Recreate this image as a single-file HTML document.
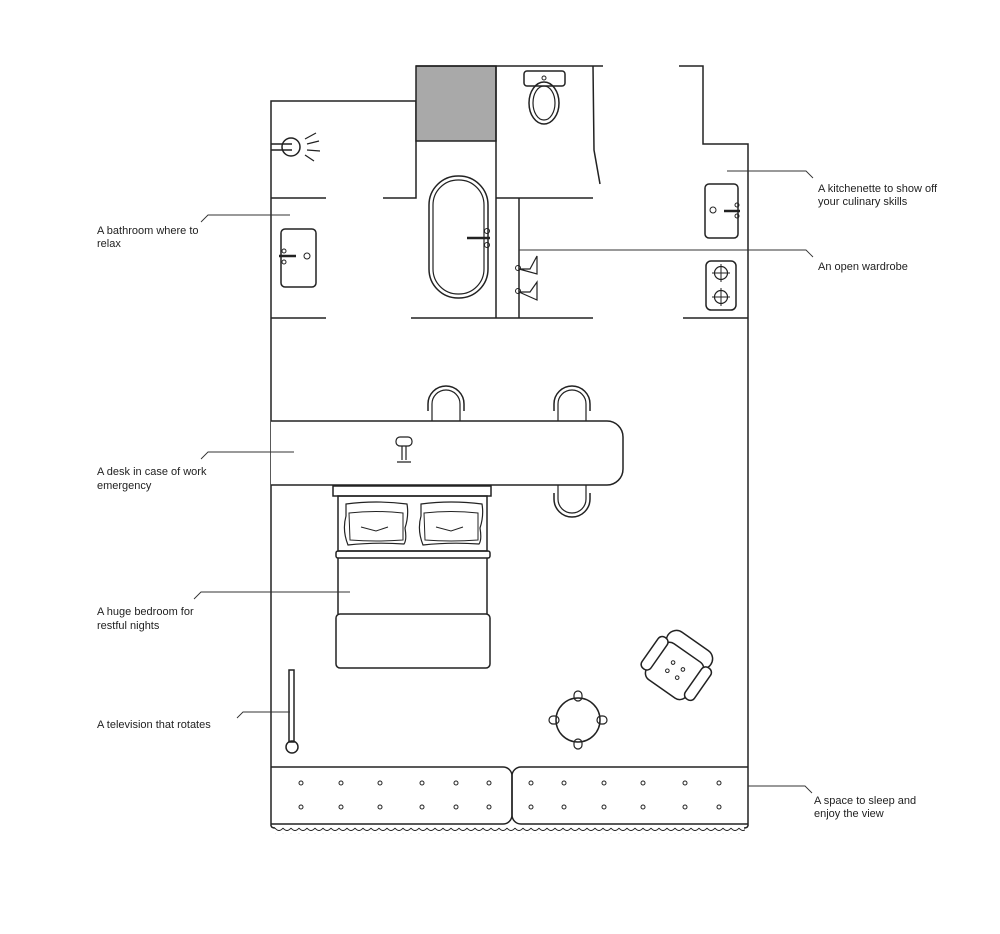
<!DOCTYPE html>
<html><head><meta charset="utf-8"><style>
body{margin:0;background:#fff;width:1000px;height:934px;overflow:hidden}
svg{display:block}
text{font-family:"Liberation Sans",sans-serif;font-size:11px;fill:#222}
</style></head><body>
<svg width="1000" height="934" viewBox="0 0 1000 934" xmlns="http://www.w3.org/2000/svg">
<defs>
<pattern id="w" x="275" y="827" width="8" height="6" patternUnits="userSpaceOnUse">
<path d="M0,1 Q4,6 8,1" fill="none" stroke="#222" stroke-width="1"/>
</pattern>
</defs>
<g fill="none" stroke="#222" stroke-width="1.5">
<path d="M271,826 V101 H416 V198 H383"/>
<path d="M271,198 H326"/>
<rect x="416" y="66" width="80" height="75" fill="#a9a9a9" stroke="#222"/>
<path d="M416,66 H603"/>
<path d="M496,66 V318"/>
<path d="M496,198 H593"/>
<path d="M593,66 L594,150 L600,184"/>
<path d="M679,66 H703 V144 H748 V826"/>
<path d="M271,318 H326 M411,318 H593 M683,318 H748"/>
<path d="M519,198 V318"/>
<path d="M519,269 L530,269 L537,256 L537,274 L519,269 M519,292 L530,292 L537,282 L537,300 L519,292" stroke-width="1.2"/>
<circle cx="518" cy="268" r="2.5" stroke-width="1"/><circle cx="518" cy="291" r="2.5" stroke-width="1"/>
<circle cx="291" cy="147" r="9"/>
<path d="M271,144 H292 M271,150 H292"/>
<path d="M305,139 L316,133 M307,144 L319,141 M307,150 L320,151 M305,155 L314,161" stroke-width="1.2"/>
<rect x="281" y="229" width="35" height="58" rx="4"/>
<path d="M279,256 H296" stroke-width="2.5"/>
<circle cx="284" cy="251" r="2" stroke-width="1"/><circle cx="284" cy="262" r="2" stroke-width="1"/>
<circle cx="307" cy="256" r="3" stroke-width="1"/>
<rect x="429" y="176" width="59" height="122" rx="29"/>
<rect x="433" y="180" width="51" height="114" rx="25" stroke-width="1.2"/>
<path d="M467,238 H490" stroke-width="2.5"/>
<circle cx="487" cy="231" r="2.5" stroke-width="1"/><circle cx="487" cy="245" r="2.5" stroke-width="1"/>
<rect x="524" y="71" width="41" height="15" rx="3"/>
<circle cx="544" cy="78" r="2" stroke-width="1"/>
<ellipse cx="544" cy="103" rx="15" ry="21"/>
<ellipse cx="544" cy="103" rx="11" ry="17" stroke-width="1.2"/>
<rect x="705" y="184" width="33" height="54" rx="4"/>
<path d="M724,211 H740" stroke-width="2.5"/>
<circle cx="737" cy="205" r="2" stroke-width="1"/><circle cx="737" cy="216" r="2" stroke-width="1"/>
<circle cx="713" cy="210" r="3" stroke-width="1"/>
<rect x="706" y="261" width="30" height="49" rx="5"/>
<circle cx="721" cy="273" r="6.5" stroke-width="1.2"/><circle cx="721" cy="297" r="6.5" stroke-width="1.2"/>
<path d="M721,264 V282 M712,273 H730 M721,288 V306 M712,297 H730" stroke-width="1"/>
<path d="M428,411 V404 A18,18 0 0 1 464,404 V411"/><path d="M432,421 V404 A14,14 0 0 1 460,404 V421" stroke-width="1.2"/>
<path d="M554,411 V404 A18,18 0 0 1 590,404 V411"/><path d="M558,421 V404 A14,14 0 0 1 586,404 V421" stroke-width="1.2"/>
<path d="M554,493 V499 A18,18 0 0 0 590,499 V493"/><path d="M558,485 V499 A14,14 0 0 0 586,499 V485" stroke-width="1.2"/>
<path d="M271,421 H607 A16,16 0 0 1 623,437 V469 A16,16 0 0 1 607,485 H271" fill="#fff"/>
<rect x="396" y="437" width="16" height="9" rx="4" stroke-width="1.2"/>
<path d="M402,446 V460 M406,446 V460 M397,462 H411" stroke-width="1.2"/>
<rect x="333" y="486" width="158" height="10"/>
<rect x="338" y="496" width="149" height="55"/>
<rect x="336" y="551" width="154" height="7" rx="2"/>
<path d="M338,558 V614 M487,558 V614"/>
<rect x="336" y="614" width="154" height="54" rx="4"/>
<path d="M346,504 Q376,500 407,504 Q409,516 405,528 Q407,540 404,544 Q375,542 348,545 Q342,530 346,516 Z" stroke-width="1.2"/>
<path d="M349,513 Q376,510 403,513 L403,540 Q376,542 350,540 Z" stroke-width="1"/>
<path d="M361,527 L376,531 L388,527" stroke-width="1"/>
<path d="M421,504 Q451,500 482,504 Q484,516 480,528 Q482,540 479,544 Q450,542 423,545 Q417,530 421,516 Z" stroke-width="1.2"/>
<path d="M424,513 Q451,510 478,513 L478,540 Q451,542 425,540 Z" stroke-width="1"/>
<path d="M436,527 L451,531 L463,527" stroke-width="1"/>
<rect x="289" y="670" width="5" height="72"/>
<circle cx="292" cy="747" r="6"/>
<circle cx="578" cy="720" r="22"/>
<rect x="574" y="691" width="8" height="10" rx="4" stroke-width="1.2"/>
<rect x="574" y="739" width="8" height="10" rx="4" stroke-width="1.2"/>
<rect x="549" y="716" width="10" height="8" rx="4" stroke-width="1.2"/>
<rect x="597" y="716" width="10" height="8" rx="4" stroke-width="1.2"/>
<g transform="translate(678,666) rotate(35)">
<rect x="-26" y="-30" width="52" height="20" rx="10"/>
<rect x="-24" y="-16" width="48" height="44" rx="8" fill="#fff"/>
<rect x="-32" y="-16" width="11" height="38" rx="5" fill="#fff"/>
<rect x="21" y="-16" width="11" height="38" rx="5" fill="#fff"/>
<circle cx="-6" cy="0" r="1.8" stroke-width="1"/><circle cx="6" cy="0" r="1.8" stroke-width="1"/>
<circle cx="-6" cy="10" r="1.8" stroke-width="1"/><circle cx="6" cy="10" r="1.8" stroke-width="1"/>
</g>
<path d="M271,767 H503 A9,9 0 0 1 512,776 V815 A9,9 0 0 1 503,824 H271"/>
<path d="M748,767 H521 A9,9 0 0 0 512,776 V815 A9,9 0 0 0 521,824 H748"/>
<g stroke-width="1">
<circle cx="301" cy="783" r="2"/><circle cx="341" cy="783" r="2"/><circle cx="380" cy="783" r="2"/><circle cx="422" cy="783" r="2"/><circle cx="456" cy="783" r="2"/><circle cx="489" cy="783" r="2"/>
<circle cx="531" cy="783" r="2"/><circle cx="564" cy="783" r="2"/><circle cx="604" cy="783" r="2"/><circle cx="643" cy="783" r="2"/><circle cx="685" cy="783" r="2"/><circle cx="719" cy="783" r="2"/>
<circle cx="301" cy="807" r="2"/><circle cx="341" cy="807" r="2"/><circle cx="380" cy="807" r="2"/><circle cx="422" cy="807" r="2"/><circle cx="456" cy="807" r="2"/><circle cx="489" cy="807" r="2"/>
<circle cx="531" cy="807" r="2"/><circle cx="564" cy="807" r="2"/><circle cx="604" cy="807" r="2"/><circle cx="643" cy="807" r="2"/><circle cx="685" cy="807" r="2"/><circle cx="719" cy="807" r="2"/>
</g>
<path d="M271,826 Q272,828 275,828 M748,826 Q747,828 744,828"/>
</g>
<rect x="275" y="827" width="470" height="7" fill="url(#w)"/>
<g fill="none" stroke="#333" stroke-width="0.9">
<path d="M201,222 L208,215 H290"/>
<path d="M201,459 L208,452 H294"/>
<path d="M194,599 L201,592 H350"/>
<path d="M237,718 L243,712 H290"/>
<path d="M727,171 H806 L813,178"/>
<path d="M519,250 H806 L813,257"/>
<path d="M748,786 H805 L812,793"/>
</g>
<text x="97" y="234">A bathroom where to</text>
<text x="97" y="247">relax</text>
<text x="97" y="475">A desk in case of work</text>
<text x="97" y="489">emergency</text>
<text x="97" y="615">A huge bedroom for</text>
<text x="97" y="629">restful nights</text>
<text x="97" y="728">A television that rotates</text>
<text x="818" y="192">A kitchenette to show off</text>
<text x="818" y="205">your culinary skills</text>
<text x="818" y="270">An open wardrobe</text>
<text x="814" y="804">A space to sleep and</text>
<text x="814" y="817">enjoy the view</text>
</svg>
</body></html>
